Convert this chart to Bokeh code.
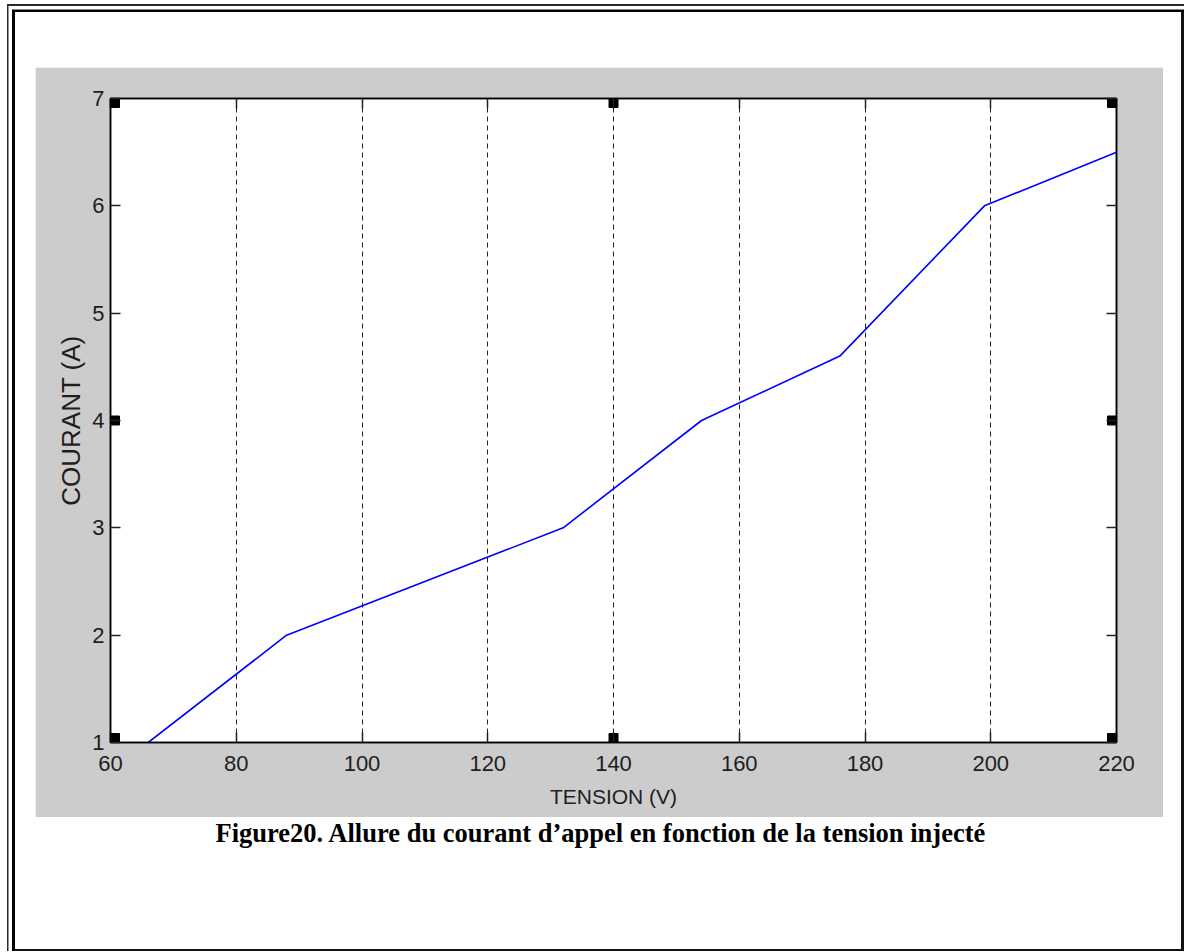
from bokeh.plotting import figure
from bokeh.layouts import column
from bokeh.models import Range1d, LinearAxis, FixedTicker, Label, Spacer
from bokeh.embed import file_html
from bokeh.resources import INLINE

# ---- data ----
tension = [66, 88, 132, 154, 176, 199, 220]
courant = [1.0, 2.0, 3.0, 4.0, 4.6, 6.0, 6.5]
x_ticks = [60, 80, 100, 120, 140, 160, 180, 200, 220]
y_ticks = [1, 2, 3, 4, 5, 6, 7]
handle_x = [60, 60, 60, 140, 140, 220, 220, 220]
handle_y = [1, 4, 7, 1, 7, 1, 4, 7]
x_label = "TENSION (V)"
y_label = "COURANT (A)"
caption = "Figure20. Allure du courant d\u2019appel en fonction de la tension injecté"

X0, X1 = 60, 220
Y0, Y1 = 1, 7

# page and gray figure panel
PW, PH = 1184, 951
GX, GY = 35, 67
GW, GH = 1128, 750
ML, MR, MT, MB = 75, 47, 31, 75
FW, FH = GW - ML - MR, GH - MT - MB
CAP_H = 48

SANS = "Liberation Sans, Arial, Helvetica, sans-serif"
INK = "#1e1e1e"
GRAY = "#cccccc"

p = figure(width=GW, height=GH, output_backend="svg", toolbar_location=None,
           x_range=Range1d(X0, X1), y_range=Range1d(Y0, Y1),
           min_border_left=ML, min_border_right=MR,
           min_border_top=MT, min_border_bottom=MB,
           x_axis_label=x_label, y_axis_label=y_label)
p.border_fill_color = GRAY
p.background_fill_color = "white"
p.outline_line_color = "black"
p.outline_line_width = 1.5
p.margin = (GY, PW - GX - GW, 0, GX)

# grid: vertical dashed only
p.ygrid.visible = False
p.xgrid.ticker = FixedTicker(ticks=x_ticks)
p.xgrid.grid_line_color = "#222222"
p.xgrid.grid_line_width = 1
p.xgrid.grid_line_dash = "5 4"


def style_axis(ax, ticks, labels=True):
    ax.ticker = FixedTicker(ticks=ticks)
    ax.axis_line_color = "black"
    ax.axis_line_width = 1.5
    ax.major_tick_line_color = "#222222"
    ax.major_tick_line_width = 1.5
    ax.major_tick_in = 10
    ax.major_tick_out = 0
    ax.minor_tick_line_color = None
    ax.major_label_text_font = SANS
    ax.major_label_text_font_size = "22px"
    ax.major_label_text_color = INK
    if not labels:
        ax.major_label_overrides = {t: "" for t in ticks}


xa = p.xaxis[0]
style_axis(xa, x_ticks)
xa.major_label_standoff = 13
xa.axis_label_text_font = SANS
xa.axis_label_text_font_size = "21px"
xa.axis_label_text_font_style = "normal"
xa.axis_label_text_color = INK
xa.axis_label_standoff = 11

ya = p.yaxis[0]
style_axis(ya, y_ticks)
ya.major_label_standoff = 6
ya.axis_label_text_font = SANS
ya.axis_label_text_font_size = "26px"
ya.axis_label_text_font_style = "normal"
ya.axis_label_text_color = INK
ya.axis_label_standoff = 3

top_ax = LinearAxis()
style_axis(top_ax, x_ticks, labels=False)
p.add_layout(top_ax, "above")
right_ax = LinearAxis()
style_axis(right_ax, y_ticks, labels=False)
p.add_layout(right_ax, "right")

# curve
p.line(tension, courant, line_color="#0000ff", line_width=1.6)

# black selection handles, drawn just inside the box
HS = 9
dx = (HS / 2) * (X1 - X0) / FW
dy = (HS / 2) * (Y1 - Y0) / FH
hx = [x + (dx if x == X0 else -dx if x == X1 else 0) for x in handle_x]
hy = [y + (dy if y == Y0 else -dy if y == Y1 else 0) for y in handle_y]
p.rect(hx, hy, width=HS, height=HS, width_units="screen", height_units="screen",
       fill_color="black", line_color="black")

# caption strip below the gray panel; the column aligns its frame with the
# chart's frame, so its x range is expressed in page pixels of that frame
cap = figure(width=GW, height=CAP_H, output_backend="svg", toolbar_location=None,
             x_range=Range1d(GX + ML, GX + ML + FW), y_range=Range1d(0, CAP_H),
             x_axis_type=None, y_axis_type=None, min_border=0)
cap.outline_line_color = None
cap.grid.visible = False
cap.border_fill_color = "white"
cap.background_fill_color = "white"
cap.margin = (0, PW - GX - GW, 0, GX)
cap.add_layout(Label(x=215, y=CAP_H - 15, text=caption, text_align="left",
                     text_baseline="middle",
                     text_font="Liberation Serif, Times New Roman, serif",
                     text_font_size="26.5px", text_font_style="bold",
                     text_color="black"))

filler = Spacer(width=PW, height=PH - GY - GH - CAP_H)

frame_css = ", ".join([
    "inset 7px 4px 0 0 #ffffff",
    "inset 8.5px 6px 0 0 #2a2a2a",
    "inset 12px 9.5px 0 0 #ffffff",
    "inset 15px 12px 0 0 #000000",
    "inset -3px -2px 0 0 #111111",
])

page = column(p, cap, filler, width=PW, height=PH,
              styles={"box-shadow": frame_css, "background-color": "white"})

open("out.html", "w").write(file_html(page, INLINE))
